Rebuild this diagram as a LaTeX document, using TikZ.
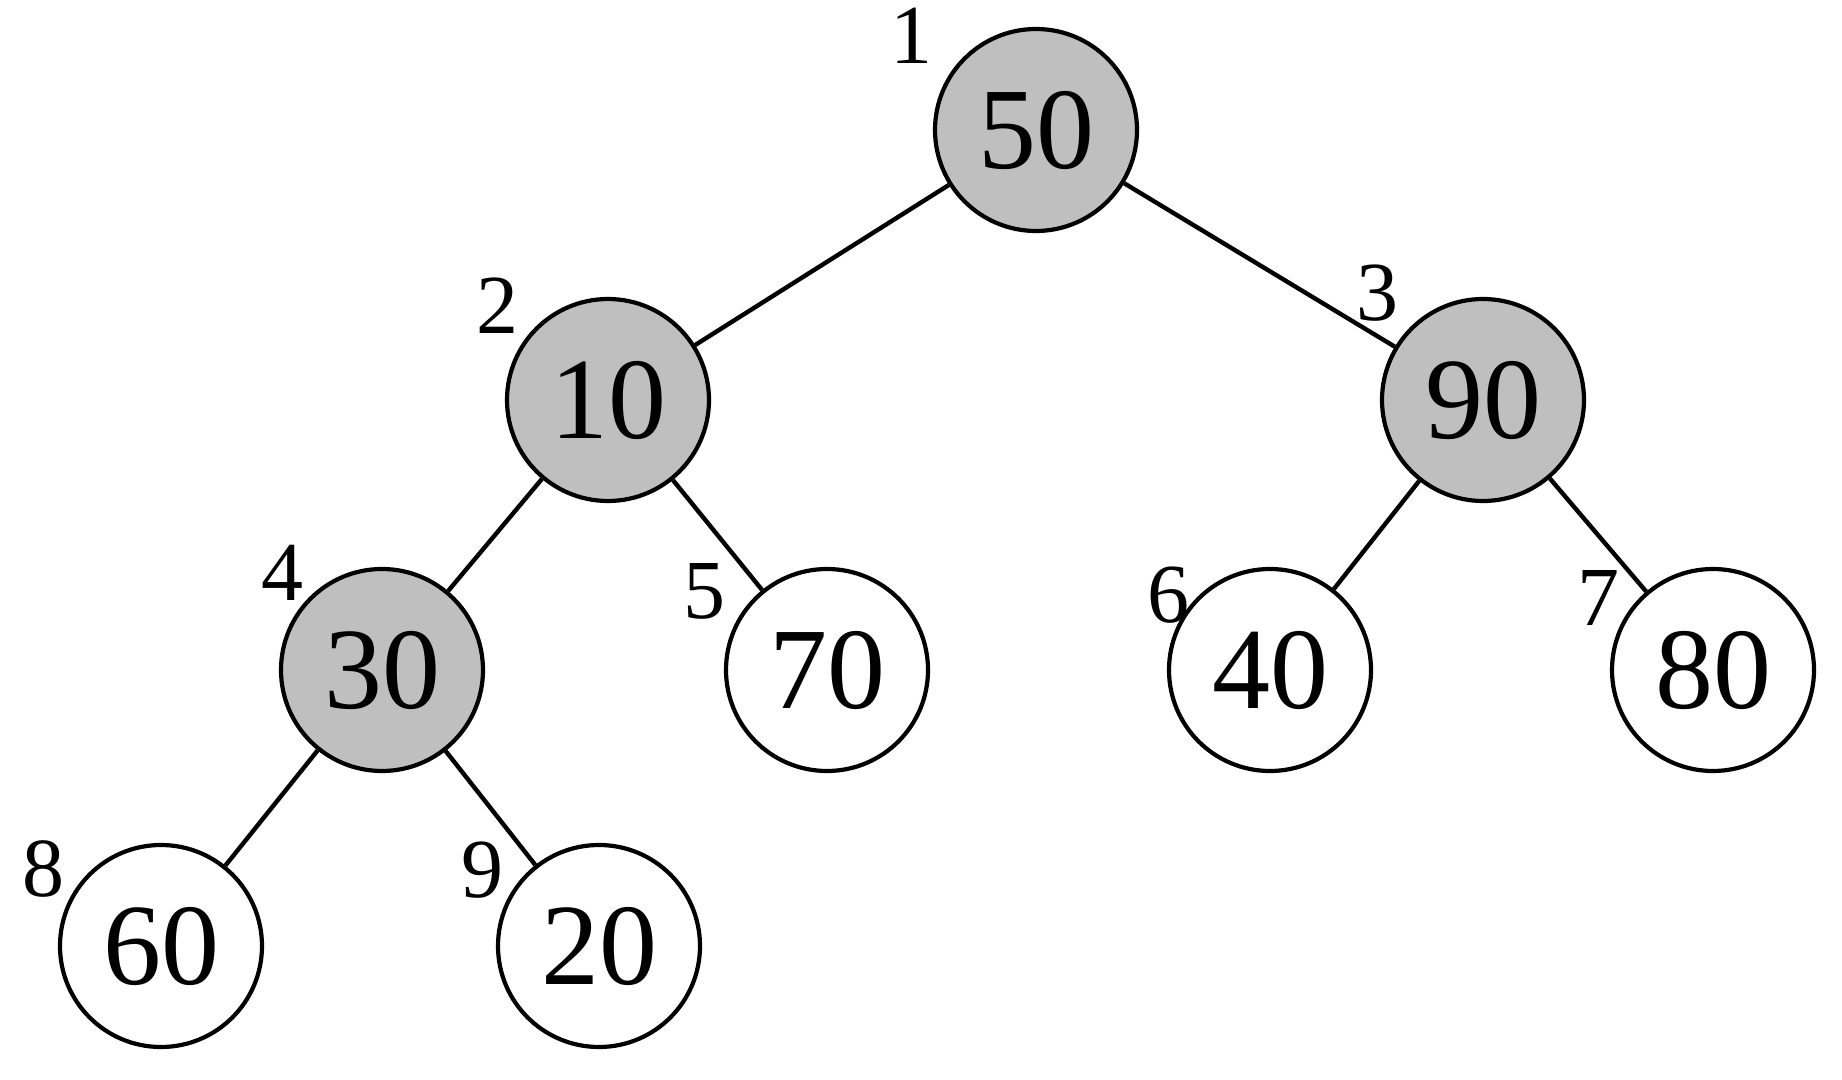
\documentclass[tikz,border=0pt]{standalone}
\usepackage{fontspec}
\setmainfont{Liberation Serif}
\begin{document}
\begin{tikzpicture}[x=0.5pt,y=-0.5pt,
  hnode/.style={circle,draw=black,line width=2.1pt,minimum size=101pt,inner sep=0pt,font=\fontsize{58}{60}\selectfont},
  grayn/.style={hnode,fill=black!25},
  whiten/.style={hnode,fill=white},
  idx/.style={font=\fontsize{42}{44}\selectfont,inner sep=0pt},
  edge/.style={line width=2.2pt}]
\useasboundingbox (0,0) rectangle (1842,1080);
\node[grayn] (n1) at (1036,130) {50};
\node[grayn] (n2) at (608,400) {10};
\node[grayn] (n3) at (1483,400) {90};
\node[grayn] (n4) at (382,670) {30};
\node[whiten] (n5) at (827,670) {70};
\node[whiten] (n6) at (1270,670) {40};
\node[whiten] (n7) at (1713,670) {80};
\node[whiten] (n8) at (161,946) {60};
\node[whiten] (n9) at (599,946) {20};
\draw[edge] (n1) -- (n2);
\draw[edge] (n1) -- (n3);
\draw[edge] (n2) -- (n4);
\draw[edge] (n2) -- (n5);
\draw[edge] (n3) -- (n6);
\draw[edge] (n3) -- (n7);
\draw[edge] (n4) -- (n8);
\draw[edge] (n4) -- (n9);
\node[idx] (l1) at (911,36) {1};
\node[idx] (l2) at (497,306) {2};
\node[idx] (l3) at (1377,293) {3};
\node[idx] (l4) at (282,573) {4};
\node[idx] (l5) at (704,591) {5};
\node[idx] (l6) at (1168,595) {6};
\node[idx] (l7) at (1598,598) {7};
\node[idx] (l8) at (43,869) {8};
\node[idx] (l9) at (482,870) {9};
\end{tikzpicture}
\end{document}
